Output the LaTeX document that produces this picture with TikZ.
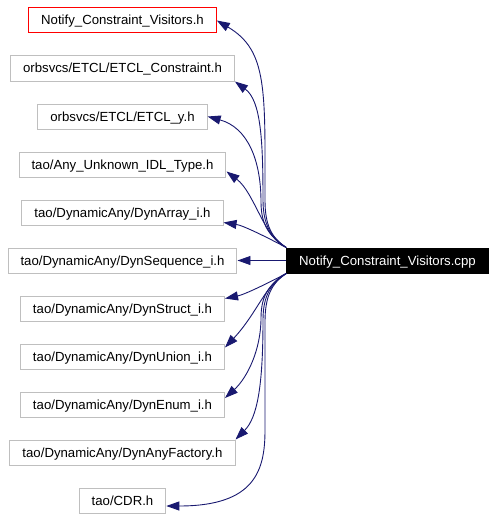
\documentclass[tikz,border=0pt]{standalone}
\usepackage{fontspec}
\setmainfont{Liberation Sans}
\usetikzlibrary{arrows.meta}
\definecolor{dxblue}{RGB}{25,25,112}
\definecolor{dxgray}{RGB}{191,191,191}

\begin{document}
\begin{tikzpicture}[
  x=1pt, y=-1pt,
  hb/.style={draw=dxgray, line width=1pt, rectangle,
             minimum height=25pt, inner xsep=12.5pt, inner ysep=2pt,
             text height=9.5pt, text depth=0.5pt,
             font=\fontsize{13.2}{15}\selectfont},
  hroot/.style={hb, draw=red},
  cppb/.style={hb, draw=black, fill=black, text=white},
  arr/.style={-{Triangle[length=13pt,width=9pt]}, draw=dxblue, line width=0.9pt}
]
\useasboundingbox (0,0) rectangle (495,519);

%% ═══════════════════════════════════════════════
%% included headers
%% ═══════════════════════════════════════════════

\node[hroot] (n_vis)     at (122.5,  20.5) {Notify\_Constraint\_Visitors.h};
\node[hb]    (n_etclc)   at (122.5,  68.5) {orbsvcs/ETCL/ETCL\_Constraint.h};
\node[hb]    (n_etcly)   at (122.5, 116.5) {orbsvcs/ETCL/ETCL\_y.h};
\node[hb]    (n_anyunk)  at (122.5, 164.5) {tao/Any\_Unknown\_IDL\_Type.h};
\node[hb]    (n_dynarr)  at (122.5, 212.5) {tao/DynamicAny/DynArray\_i.h};
\node[hb]    (n_dynseq)  at (122.5, 260.5) {tao/DynamicAny/DynSequence\_i.h};
\node[hb]    (n_dynstr)  at (122.5, 308.5) {tao/DynamicAny/DynStruct\_i.h};
\node[hb]    (n_dynuni)  at (122.5, 356.5) {tao/DynamicAny/DynUnion\_i.h};
\node[hb]    (n_dynenum) at (122.5, 404.5) {tao/DynamicAny/DynEnum\_i.h};
\node[hb]    (n_dynfac)  at (122.5, 452.5) {tao/DynamicAny/DynAnyFactory.h};
\node[hb]    (n_cdr)     at (122.5, 500.5) {tao/CDR.h};

%% ═══════════════════════════════════════════════
%% source file
%% ═══════════════════════════════════════════════

\node[cppb]  (n_cpp)     at (387.5, 260.5) {Notify\_Constraint\_Visitors.cpp};

% bends of the edge bundles
\coordinate (up_a) at (265,200);
\coordinate (up_b) at (263,200);
\coordinate (up_c) at (261,202);
\coordinate (lo_a) at (261,318);
\coordinate (lo_b) at (263,320);
\coordinate (lo_c) at (265,322);
\coordinate (lo_d) at (265,430);

% upper edges
\draw[arr] (n_cpp.north west) .. controls +(-15,-10) and +(0,25) .. (up_a)
           .. controls +(0,-110) and +(51,30) .. (n_vis.east);
\draw[arr] (n_cpp.north west) .. controls +(-15,-10) and +(0,25) .. (up_b)
           .. controls +(0,-60) and +(26,19) .. (n_etclc.south east);
\draw[arr] (n_cpp.north west) .. controls +(-15,-10) and +(0,25) .. (up_c)
           .. controls +(0,-42) and +(40,11) .. (n_etcly.east);
\draw[arr] (n_cpp.north west) .. controls +(-22,-9)  and +(28,21)  .. ([yshift=-7pt]n_anyunk.east);
\draw[arr] (n_cpp.north west) .. controls +(-17,-9)  and +(20,3)   .. ([yshift=-10pt]n_dynarr.east);
% straight edge
\draw[arr] (n_cpp.west) -- (n_dynseq.east);
% lower edges
\draw[arr] (n_cpp.south west) .. controls +(-15,8)   and +(20,-4)  .. ([yshift=10pt]n_dynstr.east);
\draw[arr] (n_cpp.south west) .. controls +(-19,8)   and +(32,-34) .. ([yshift=9pt]n_dynuni.east);
\draw[arr] (n_cpp.south west) .. controls +(-15,10) and +(0,-25) .. (lo_a)
           .. controls +(0,32) and +(22,-20) .. ([yshift=6.5pt]n_dynenum.east);
\draw[arr] (n_cpp.south west) .. controls +(-15,10) and +(0,-25) .. (lo_b)
           .. controls +(0,65) and +(22,-22) .. (n_dynfac.north east);
\draw[arr] (n_cpp.south west) .. controls +(-15,10) and +(0,-25) .. (lo_c)
           -- (lo_d) .. controls +(0,40) and +(89,0) .. ([yshift=-5.5pt]n_cdr.east);

\end{tikzpicture}
\end{document}
